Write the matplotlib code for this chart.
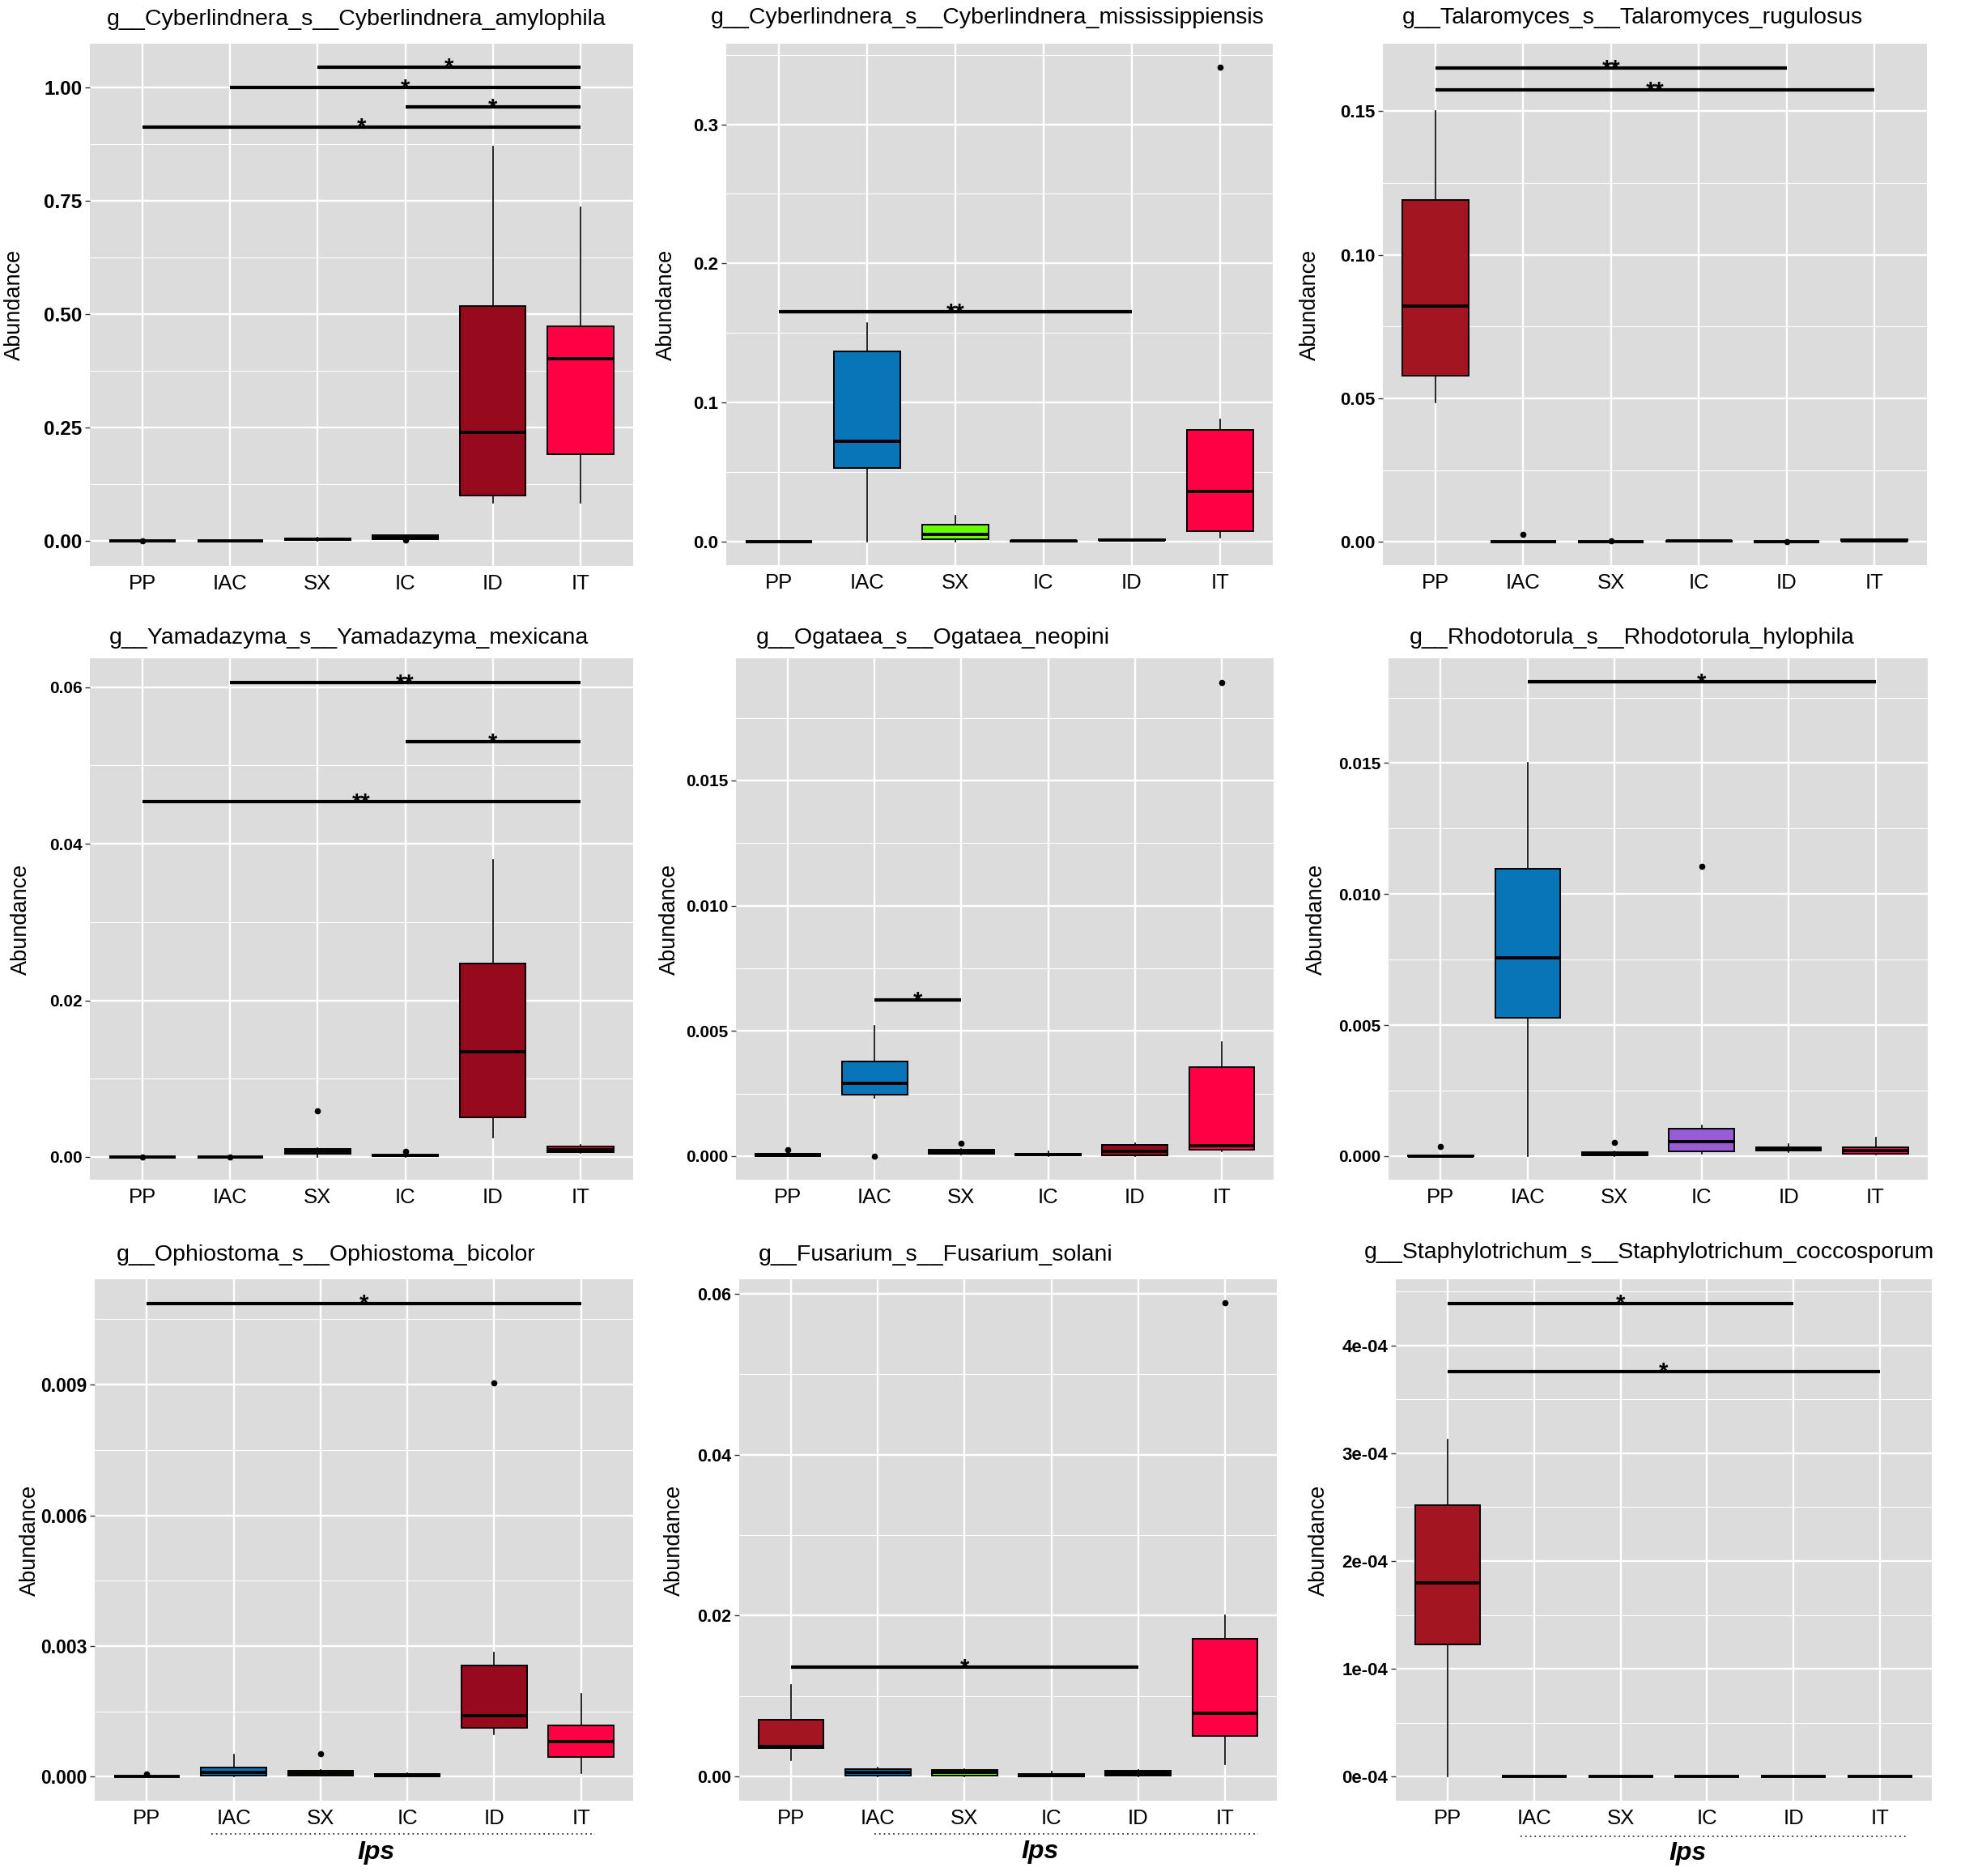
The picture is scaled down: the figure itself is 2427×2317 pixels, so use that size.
import numpy as np
import matplotlib
matplotlib.use("Agg")
import matplotlib.pyplot as plt

plt.rcParams['font.family'] = ['Liberation Sans', 'DejaVu Sans']

W, H = 2427, 2317

groups = ["PP", "IAC", "SX", "IC", "ID", "IT"]
box_colors = ["#A31621", "#0775B8", "#66FF00", "#9A5CD6", "#970A1E", "#FF0044"]

# each group: (whisker low, q1, median, q3, whisker high)
amylophila_stats = [(0, 0, 0, 0, 0), (0, 0, 0, 0, 0), (0.001, 0.002, 0.004, 0.006, 0.007),
                    (0.003, 0.004, 0.008, 0.012, 0.013), (0.085, 0.10, 0.239, 0.517, 0.870),
                    (0.085, 0.192, 0.401, 0.474, 0.736)]
amylophila_fliers = [[0.0], [], [], [0.002], [], []]
amylophila_sig = [(3, 6, 1.045, "*"), (2, 6, 1.0, "*"), (4, 6, 0.957, "*"), (1, 6, 0.913, "*")]

mississippiensis_stats = [(0, 0, 0, 0, 0), (0, 0.053, 0.072, 0.1365, 0.157),
                          (0, 0.0014, 0.005, 0.012, 0.0187), (0, 0, 0.0002, 0.0004, 0.0005),
                          (0.0005, 0.0008, 0.001, 0.0015, 0.0018), (0.003, 0.0072, 0.0357, 0.080, 0.0877)]
mississippiensis_fliers = [[], [], [], [], [], [0.341]]
mississippiensis_sig = [(1, 5, 0.165, "**")]

rugulosus_stats = [(0.0485, 0.058, 0.0822, 0.119, 0.150), (0, 0, 0, 0.0001, 0.0002),
                   (0, 0, 0, 0.0001, 0.0002), (0, 0.0001, 0.0003, 0.0005, 0.0006),
                   (0, 0, 0.0001, 0.0001, 0.0002), (0.0002, 0.0003, 0.0005, 0.0008, 0.0009)]
rugulosus_fliers = [[], [0.0027], [0.0003], [], [0.0002], []]
rugulosus_sig = [(1, 5, 0.165, "**"), (1, 6, 0.1575, "**")]

mexicana_stats = [(0, 0, 0, 0, 0), (0, 0, 0, 0, 0), (0, 0.0004, 0.0007, 0.001, 0.0011),
                  (0, 0.0001, 0.0002, 0.0003, 0.0003), (0.0025, 0.0051, 0.01346, 0.0247, 0.038),
                  (0.0005, 0.0006, 0.0009, 0.0013, 0.0015)]
mexicana_fliers = [[0.0], [0.0], [0.0059], [0.0007], [], []]
mexicana_sig = [(2, 6, 0.0606, "**"), (4, 6, 0.0530, "*"), (1, 6, 0.0454, "**")]

neopini_stats = [(0, 0, 0.00005, 0.0001, 0.0001), (0.00233, 0.00244, 0.00292, 0.00378, 0.0052),
                 (0.00005, 0.0001, 0.00015, 0.00025, 0.0003), (0, 0.00002, 0.00005, 0.0001, 0.0002),
                 (0, 0.00003, 0.0002, 0.00044, 0.00052), (0.0002, 0.00027, 0.00043, 0.00355, 0.00454)]
neopini_fliers = [[0.00027], [0.0], [0.0005], [], [], [0.0189]]
neopini_sig = [(2, 3, 0.00624, "*")]

hylophila_stats = [(0, 0, 0.00001, 0.00003, 0.00003), (0, 0.00529, 0.00757, 0.01098, 0.0150),
                   (0, 0.00002, 0.00008, 0.00015, 0.00018), (0.0001, 0.00017, 0.00055, 0.00106, 0.00118),
                   (0.00015, 0.0002, 0.00028, 0.00035, 0.00045), (0.00005, 0.0001, 0.0002, 0.00035, 0.0007)]
hylophila_fliers = [[0.00036], [], [0.00051], [0.01107], [], []]
hylophila_sig = [(2, 6, 0.01809, "*")]

bicolor_stats = [(0, 0, 0, 0, 0), (0, 0.00003, 0.0001, 0.00022, 0.00051),
                 (0.00002, 0.00003, 0.00008, 0.000135, 0.00015), (0, 0.00001, 0.00004, 0.00007, 0.00008),
                 (0.00098, 0.00113, 0.0014, 0.00255, 0.00286), (0.00008, 0.00046, 0.0008, 0.00118, 0.0019)]
bicolor_fliers = [[0.00006], [], [0.00052], [], [0.00905], []]
bicolor_sig = [(1, 6, 0.01087, "*")]

solani_stats = [(0.002, 0.00356, 0.0037, 0.00702, 0.01137), (0, 0.0001, 0.0005, 0.0009, 0.0011),
                (0, 0.0001, 0.0005, 0.0008, 0.0009), (0, 0, 0.0001, 0.0003, 0.0006),
                (0, 0.0001, 0.0004, 0.0007, 0.0008), (0.00157, 0.00508, 0.00791, 0.01714, 0.0200)]
solani_fliers = [[], [], [], [], [], [0.0589]]
solani_sig = [(1, 5, 0.01362, "*")]

coccosporum_stats = [(0, 1.224e-4, 1.795e-4, 2.518e-4, 3.128e-4), (0, 0, 0, 0, 0), (0, 0, 0, 0, 0),
                     (0, 0, 0, 0, 0), (0, 0, 0, 0, 0), (0, 0, 0, 0, 0)]
coccosporum_fliers = [[], [], [], [], [], []]
coccosporum_sig = [(1, 5, 4.391e-4, "*"), (1, 6, 3.761e-4, "*")]

titles = ["g__Cyberlindnera_s__Cyberlindnera_amylophila",
          "g__Cyberlindnera_s__Cyberlindnera_mississippiensis",
          "g__Talaromyces_s__Talaromyces_rugulosus",
          "g__Yamadazyma_s__Yamadazyma_mexicana",
          "g__Ogataea_s__Ogataea_neopini",
          "g__Rhodotorula_s__Rhodotorula_hylophila",
          "g__Ophiostoma_s__Ophiostoma_bicolor",
          "g__Fusarium_s__Fusarium_solani",
          "g__Staphylotrichum_s__Staphylotrichum_coccosporum"]

yticks = [[0, 0.25, 0.5, 0.75, 1.0], [0, 0.1, 0.2, 0.3], [0, 0.05, 0.10, 0.15],
          [0, 0.02, 0.04, 0.06], [0, 0.005, 0.010, 0.015], [0, 0.005, 0.010, 0.015],
          [0, 0.003, 0.006, 0.009], [0, 0.02, 0.04, 0.06], [0, 1e-4, 2e-4, 3e-4, 4e-4]]
ytick_labels = [["0.00", "0.25", "0.50", "0.75", "1.00"], ["0.0", "0.1", "0.2", "0.3"],
                ["0.00", "0.05", "0.10", "0.15"], ["0.00", "0.02", "0.04", "0.06"],
                ["0.000", "0.005", "0.010", "0.015"], ["0.000", "0.005", "0.010", "0.015"],
                ["0.000", "0.003", "0.006", "0.009"], ["0.00", "0.02", "0.04", "0.06"],
                ["0e-04", "1e-04", "2e-04", "3e-04", "4e-04"]]
ylims = [(-0.055, 1.096), (-0.017, 0.358), (-0.0081, 0.1735), (-0.0029, 0.0637),
         (-0.00094, 0.01988), (-0.0009, 0.0190), (-0.00055, 0.01142), (-0.003, 0.0618),
         (-0.223e-4, 4.614e-4)]

all_stats = [amylophila_stats, mississippiensis_stats, rugulosus_stats, mexicana_stats,
             neopini_stats, hylophila_stats, bicolor_stats, solani_stats, coccosporum_stats]
all_fliers = [amylophila_fliers, mississippiensis_fliers, rugulosus_fliers, mexicana_fliers,
              neopini_fliers, hylophila_fliers, bicolor_fliers, solani_fliers, coccosporum_fliers]
all_sig = [amylophila_sig, mississippiensis_sig, rugulosus_sig, mexicana_sig, neopini_sig,
           hylophila_sig, bicolor_sig, solani_sig, coccosporum_sig]

# layout in pixels: panel (left, top, right, bottom), title (x, y), ylabel x
panel_px = [(111, 54, 782, 699), (897, 54, 1572, 698), (1708, 54, 2380, 698),
            (111, 813, 782, 1457), (909, 813, 1573, 1457), (1715, 813, 2381, 1457),
            (117, 1580, 782, 2224), (913, 1580, 1577, 2224), (1724, 1580, 2386, 2224)]
title_px = [(132, 24), (878, 22), (1732, 22), (135, 788), (934, 788), (1741, 788),
            (144, 1550), (937, 1550), (1685, 1547)]
ylab_x = [18, 823, 1618, 26, 827, 1626, 37, 833, 1629]
tick_fs = [17.5, 16, 16, 15, 15, 15, 16.5, 15.5, 16]

fig = plt.figure(figsize=(W / 100, H / 100), dpi=100)
fig.patch.set_facecolor("white")

for k in range(9):
    l, t, r, b = panel_px[k]
    ax = fig.add_axes([l / W, 1 - b / H, (r - l) / W, (b - t) / H])
    ax.set_facecolor("#DCDCDC")
    ax.set_axisbelow(True)
    for s in ax.spines.values():
        s.set_visible(False)

    bx = []
    for st, fl in zip(all_stats[k], all_fliers[k]):
        bx.append(dict(whislo=st[0], q1=st[1], med=st[2], q3=st[3], whishi=st[4], fliers=fl))
    art = ax.bxp(bx, positions=range(1, 7), widths=0.75, patch_artist=True, showcaps=False,
                 boxprops=dict(linewidth=1.4, edgecolor="black"),
                 medianprops=dict(color="black", linewidth=2.8),
                 whiskerprops=dict(color="black", linewidth=1.2),
                 flierprops=dict(marker="o", markersize=4.5, markerfacecolor="black",
                                 markeredgecolor="black"))
    for patch, c in zip(art["boxes"], box_colors):
        patch.set_facecolor(c)

    for a, bb, y, lab in all_sig[k]:
        ax.plot([a, bb], [y, y], color="black", lw=3, solid_capstyle="butt")
        ax.annotate(lab, ((a + bb) / 2, y), xytext=(0, -7), textcoords="offset points",
                    ha="center", va="baseline", fontsize=21, fontweight="bold")

    ax.set_xlim(0.4, 6.6)
    ax.set_ylim(*ylims[k])
    ax.set_xticks(range(1, 7))
    ax.set_xticklabels(groups, fontsize=18.5)
    ax.set_yticks(yticks[k])
    ax.set_yticklabels(ytick_labels[k], fontsize=tick_fs[k], fontweight="bold")
    step = yticks[k][1] - yticks[k][0]
    minor = np.arange(yticks[k][0] - step / 2, yticks[k][-1] + step, step)
    lo, hi = ylims[k]
    ax.set_yticks([m for m in minor if lo < m < hi], minor=True)
    ax.grid(which="major", color="white", lw=1.7)
    ax.grid(which="minor", axis="y", color="white", lw=0.8)
    ax.tick_params(axis="y", which="major", length=4, width=1, color="#333333", pad=3)
    ax.tick_params(axis="y", which="minor", length=0)
    ax.tick_params(axis="x", length=0, pad=7)

    fig.text(title_px[k][0] / W, 1 - title_px[k][1] / H, titles[k], ha="left", va="center",
             fontsize=20.5)
    fig.text(ylab_x[k] / W, 1 - (t + b) / 2 / H, "Abundance", rotation=90, ha="center",
             va="center", fontsize=19.5)

# dotted line and Ips label under bottom row
dots_px = [(261, 735, 2265), (1080, 1554, 2265), (1878, 2354, 2268)]
ips_px = [(465, 2288), (1285, 2287), (2084, 2289)]
for (x0, x1, y), (xi, yi) in zip(dots_px, ips_px):
    fig.add_artist(plt.Line2D([x0 / W, x1 / W], [1 - y / H, 1 - y / H], transform=fig.transFigure,
                              color="#333333", lw=1.3, linestyle=(0, (1, 2.2))))
    fig.text(xi / W, 1 - yi / H, "Ips", ha="center", va="center", fontsize=23,
             fontweight="bold", fontstyle="italic")

fig.savefig("out.png", dpi=100)
